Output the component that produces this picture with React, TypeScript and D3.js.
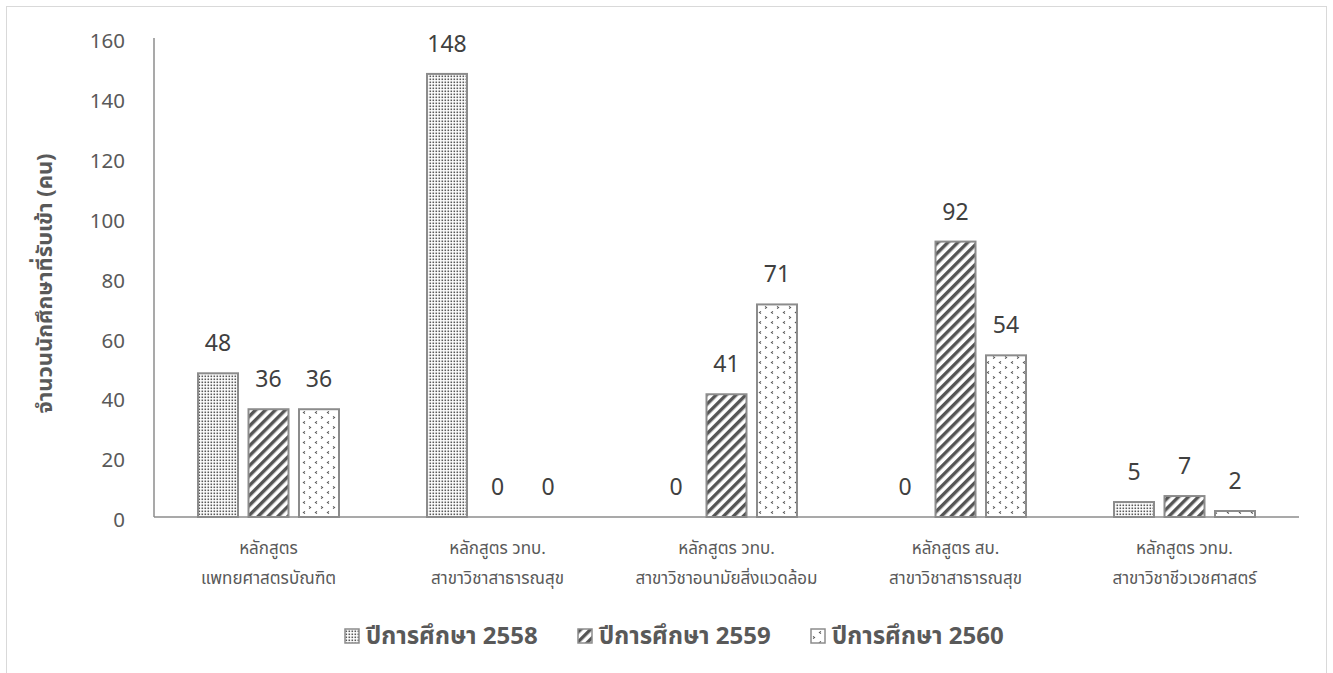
import React from "react";
import * as d3 from "d3";

const categories: string[][] = [
  ["หลักสูตร", "แพทยศาสตรบัณฑิต"],
  ["หลักสูตร วทบ.", "สาขาวิชาสาธารณสุข"],
  ["หลักสูตร วทบ.", "สาขาวิชาอนามัยสิ่งแวดล้อม"],
  ["หลักสูตร สบ.", "สาขาวิชาสาธารณสุข"],
  ["หลักสูตร วทม.", "สาขาวิชาชีวเวชศาสตร์"],
];
const seriesNames = ["ปีการศึกษา 2558", "ปีการศึกษา 2559", "ปีการศึกษา 2560"];
const values2558 = [48, 148, 0, 0, 5];
const values2559 = [36, 0, 41, 92, 7];
const values2560 = [36, 0, 71, 54, 2];
const yTicks = [0, 20, 40, 60, 80, 100, 120, 140, 160];

const FONT = "'Noto Sans', 'Noto Sans Thai', 'DejaVu Sans', sans-serif";

export default function App() {
  const series = [values2558, values2559, values2560];
  const left = 154, right = 1299, top = 38, bottom = 517;
  const x0 = d3.scaleBand<number>().domain(d3.range(categories.length)).range([left, right]).paddingInner(0).paddingOuter(0);
  const y = d3.scaleLinear().domain([0, 160]).range([bottom, top]);
  const barW = 40, step = 50.5;
  const patIds = ["pat2558", "pat2559", "pat2560"];
  const legendX = [345, 578, 811];

  return (
    <svg width={1333} height={673} style={{ position: "absolute", left: 0, top: 0, background: "#fff" }} fontFamily={FONT}>
      <defs>
        <pattern id="pat2558" width={3} height={3} patternUnits="userSpaceOnUse">
          <rect width={3} height={3} fill="#fff" />
          <rect x={0.5} y={0.5} width={1.6} height={1.6} fill="#595959" />
        </pattern>
        <pattern id="pat2559" width={7} height={7} patternUnits="userSpaceOnUse" patternTransform="rotate(45)">
          <rect width={7} height={7} fill="#fff" />
          <rect x={0} y={0} width={3.4} height={7} fill="#555" />
        </pattern>
        <pattern id="pat2560" width={12} height={10} patternUnits="userSpaceOnUse">
          <rect width={12} height={10} fill="#fff" />
          <path d="M5,1.5 L3.5,2.5 L5,3.5" stroke="#555" strokeWidth={1.1} fill="none" />
          <path d="M9,6.5 L10.5,7.5 L9,8.5" stroke="#555" strokeWidth={1.1} fill="none" />
        </pattern>
      </defs>
      <rect x={6.5} y={6.5} width={1320} height={680} fill="#fff" stroke="#d9d9d9" strokeWidth={1} />

      {/* y axis */}
      <line x1={left} x2={left} y1={top} y2={bottom} stroke="#8c8c8c" strokeWidth={1.5} />
      {yTicks.map((t) => (
        <text key={t} x={125} y={y(t) + 3} dy="0.35em" textAnchor="end" fontSize={20.5} fill="#595959">{t}</text>
      ))}
      <text transform={`translate(52,${(top + bottom) / 2 + 6}) rotate(-90)`} textAnchor="middle" fontSize={22} fontWeight="bold" fill="#595959">
        จำนวนนักศึกษาที่รับเข้า (คน)
      </text>

      {/* bars */}
      {categories.map((c, i) => {
        const cx = (x0(i) as number) + x0.bandwidth() / 2;
        return (
          <g key={i}>
            {series.map((s, j) => {
              const v = s[i];
              const bx = cx + (j - 1) * step - barW / 2;
              return (
                <g key={j}>
                  {v > 0 && (
                    <rect x={bx} y={y(v)} width={barW} height={bottom - y(v)} fill={`url(#${patIds[j]})`} stroke="#8c8c8c" strokeWidth={2} />
                  )}
                  <text x={bx + barW / 2} y={y(v) - 22} textAnchor="middle" fontSize={23} fill="#404040">{v}</text>
                </g>
              );
            })}
            <text x={cx} y={554} textAnchor="middle" fontSize={17} fill="#595959">{c[0]}</text>
            <text x={cx} y={584} textAnchor="middle" fontSize={17} fill="#595959">{c[1]}</text>
          </g>
        );
      })}

      {/* x axis */}
      <line x1={left} x2={right} y1={bottom} y2={bottom} stroke="#8c8c8c" strokeWidth={1.5} />

      {/* legend */}
      {seriesNames.map((n, j) => (
        <g key={n}>
          <rect x={legendX[j]} y={629} width={14} height={14} fill={`url(#${patIds[j]})`} stroke="#8c8c8c" strokeWidth={1.5} />
          <text x={legendX[j] + 21} y={636} dy="0.35em" fontSize={24} fontWeight="bold" fill="#595959">{n}</text>
        </g>
      ))}
    </svg>
  );
}
